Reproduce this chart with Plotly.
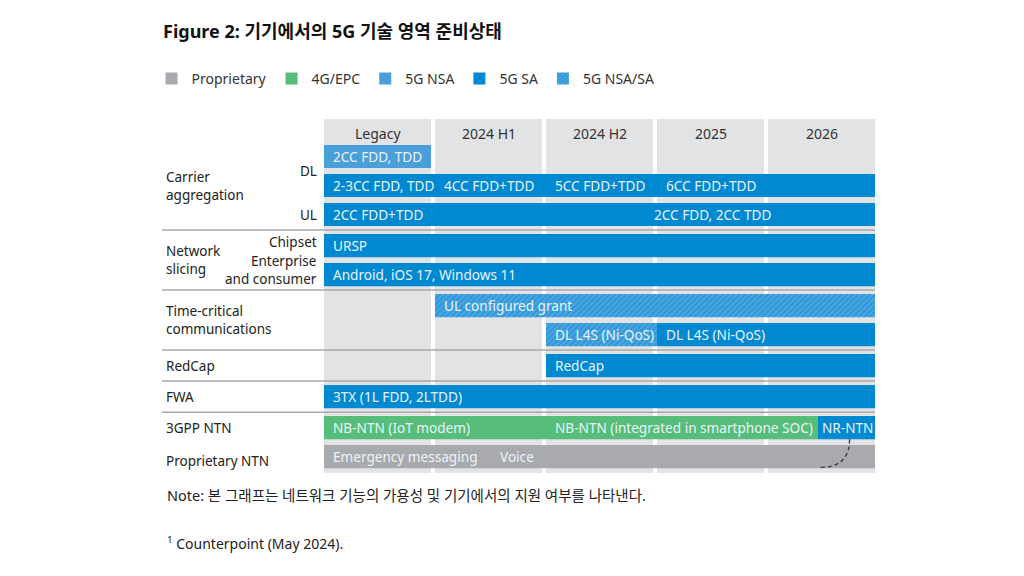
import plotly.graph_objects as go

# ── Data ─────────────────────────────────────────────────────────────────────

PERIODS = ["Legacy", "2024 H1", "2024 H2", "2025", "2026"]

TECHS = ["Proprietary", "4G/EPC", "5G NSA", "5G SA", "5G NSA/SA"]

# row index -> group index (groups are separated by a rule)
ROW_GROUP = [0, 0, 0, 1, 1, 2, 2, 3, 4, 5, 5]

# bar segments (start / end in period units, 0 = Legacy ... 5 = end of 2026)
SEG_ROW = [0, 1, 1, 1, 1, 2, 2, 3, 4, 5, 6, 6, 7, 8, 9, 9, 9, 10, 10]
SEG_START = [0, 0, 1, 2, 3, 0, 2.89, 0, 0, 1, 2, 3, 2, 0, 0, 2, 4.45, 0, 1.5]
SEG_END = [1, 1, 2, 3, 5, 2.89, 5, 5, 5, 5, 3, 5, 5, 5, 2, 4.45, 5, 1.5, 5]
SEG_TECH = [
    "5G NSA", "5G SA", "5G SA", "5G SA", "5G SA", "5G SA", "5G SA",
    "5G SA", "5G SA", "5G NSA/SA", "5G NSA/SA", "5G SA", "5G SA", "5G SA",
    "4G/EPC", "4G/EPC", "5G SA", "Proprietary", "Proprietary",
]
SEG_TEXT = [
    "2CC FDD, TDD",
    "2-3CC FDD, TDD", "4CC FDD+TDD", "5CC FDD+TDD", "6CC FDD+TDD",
    "2CC FDD+TDD", "2CC FDD, 2CC TDD",
    "URSP",
    "Android, iOS 17, Windows 11",
    "UL configured grant",
    "DL L4S (Ni-QoS)", "DL L4S (Ni-QoS)",
    "RedCap",
    "3TX (1L FDD, 2LTDD)",
    "NB-NTN (IoT modem)", "NB-NTN (integrated in smartphone SOC)", "NR-NTN",
    "Emergency messaging", "Voice",
]

# left-hand labels: (text, row position)
GROUP_LABELS = [
    ("Carrier<br>aggregation", 1),
    ("Network<br>slicing", 3.5),
    ("Time-critical<br>communications", 5.5),
    ("RedCap", 7),
    ("FWA", 8),
    ("3GPP NTN", 9),
    ("Proprietary NTN", 10.15),
]
SUB_LABELS = [
    ("DL", 0.5),
    ("UL", 2),
    ("Chipset", 2.88),
    ("Enterprise<br>and consumer", 3.86),
]

TITLE = "Figure 2: 기기에서의 5G 기술 영역 준비상태"
NOTE = "Note: 본 그래프는 네트워크 기능의 가용성 및 기기에서의 지원 여부를 나타낸다."
SOURCE = "<sup>1</sup> Counterpoint (May 2024)."

# ── Style ────────────────────────────────────────────────────────────────────

FONT = "Noto Sans, Noto Sans CJK KR, sans-serif"
COLORS = {
    "Proprietary": "#a9aaad",
    "4G/EPC": "#56bd7a",
    "5G NSA": "#4a9fdb",
    "5G SA": "#0088d1",
    "5G NSA/SA": "#3197da",
}
COL_BG = "#e2e3e5"
RULE = "#a8a8a8"
GAP = 4 / 111          # white gap between period columns
GROUP_GAP = 0.07       # extra space between row groups
BAR_W = 0.8


def row_y(r):
    i = int(r)
    base = i + GROUP_GAP * ROW_GROUP[i]
    if r == i:
        return base
    nxt = (i + 1) + GROUP_GAP * ROW_GROUP[min(i + 1, len(ROW_GROUP) - 1)]
    return base + (nxt - base) * (r - i)


# merge touching segments of the same colour into single bars (no seams)
runs = []  # (row, tech, start, end)
for i in range(len(SEG_ROW)):
    if runs and runs[-1][0] == SEG_ROW[i] and runs[-1][1] == SEG_TECH[i] \
            and runs[-1][3] == SEG_START[i]:
        runs[-1][3] = SEG_END[i]
    else:
        runs.append([SEG_ROW[i], SEG_TECH[i], SEG_START[i], SEG_END[i]])

# last run of a row stops short of the column edge
for k, run in enumerate(runs):
    if k == len(runs) - 1 or runs[k + 1][0] != run[0]:
        run[3] -= GAP

fig = go.Figure()

for tech in TECHS:
    sel = [r for r in runs if r[1] == tech]
    marker = dict(color=COLORS[tech], line=dict(width=0))
    if tech == "5G NSA/SA":
        marker["pattern"] = dict(shape="/", bgcolor="#3197da", fgcolor="#6dbbec",
                                 size=4, solidity=0.4)
    fig.add_trace(go.Bar(
        orientation="h",
        y=[row_y(r[0]) for r in sel],
        base=[r[2] for r in sel],
        x=[r[3] - r[2] for r in sel],
        width=BAR_W, marker=marker, name=tech,
        hoverinfo="skip",
    ))

# period columns + headers
shapes = []
annotations = []
for i, p in enumerate(PERIODS):
    shapes.append(dict(type="rect", xref="x", yref="paper", x0=i, x1=i + 1 - GAP,
                       y0=0, y1=1, fillcolor=COL_BG, line_width=0, layer="below"))
    annotations.append(dict(x=i + (1 - GAP) / 2, y=1, xref="x", yref="paper",
                            yanchor="middle", yshift=-14, text=p, showarrow=False,
                            font=dict(size=14, color="#333")))

# group rules
for r in range(len(ROW_GROUP) - 1):
    if ROW_GROUP[r] != ROW_GROUP[r + 1]:
        y = (row_y(r) + row_y(r + 1)) / 2
        shapes.append(dict(type="line", xref="paper", yref="y",
                           x0=-(324 - 162) / 551, x1=1, y0=y, y1=y,
                           line=dict(color=RULE, width=1.5), layer="below"))

# bar labels
for i, txt in enumerate(SEG_TEXT):
    narrow = SEG_END[i] - SEG_START[i] < 0.6
    annotations.append(dict(x=SEG_START[i], y=row_y(SEG_ROW[i]), xref="x", yref="y",
                            xanchor="left", xshift=2 if narrow else 7, text=txt,
                            showarrow=False,
                            font=dict(size=13.6, color="#eaf4fb")))

for txt, r in GROUP_LABELS:
    annotations.append(dict(x=0, y=row_y(r), xref="paper", yref="y", xanchor="left",
                            xshift=-160, text=txt, showarrow=False, align="left",
                            font=dict(size=13.5, color="#222")))
for txt, r in SUB_LABELS:
    annotations.append(dict(x=0, y=row_y(r), xref="paper", yref="y", xanchor="right",
                            xshift=-5, text=txt, showarrow=False, align="right",
                            font=dict(size=13.5, color="#222")))

# dashed connector from NR-NTN down to proprietary NTN
y0 = row_y(9) + BAR_W / 2
y1 = row_y(10) + BAR_W / 2 - 0.03
shapes.append(dict(type="path", xref="x", yref="y", layer="above",
                   path=f"M 4.735,{y0} Q 4.735,{y1} 4.47,{y1}",
                   line=dict(color="#3a3a3a", width=1.3, dash="4px,3px")))

annotations.append(dict(x=0, y=0, xref="paper", yref="paper", xanchor="left",
                        yanchor="middle", xshift=-159, yshift=-22, text=NOTE,
                        showarrow=False, font=dict(size=14.5, color="#222")))
annotations.append(dict(x=0, y=0, xref="paper", yref="paper", xanchor="left",
                        yanchor="middle", xshift=-159, yshift=-70, text=SOURCE,
                        showarrow=False, font=dict(size=14, color="#222")))

# the page adds an 8px body margin, so everything is laid out 8px up/left
fig.update_layout(
    width=1024, height=576, autosize=False,
    margin=dict(l=316, r=157, t=111, b=111),
    paper_bgcolor="white", plot_bgcolor="white",
    font=dict(family=FONT, color="#222"),
    barmode="overlay",
    title=dict(text=f"<b>{TITLE}</b>", x=155 / 1024, xanchor="left",
               y=1 - 24 / 576, yanchor="middle", xref="container", yref="container",
               font=dict(size=18, color="#111")),
    xaxis=dict(range=[0, 5 - GAP], visible=False),
    yaxis=dict(range=[10.914, -1.293], visible=False),
    legend=dict(orientation="h", x=-0.313, xanchor="left", y=1.113, yanchor="middle",
                font=dict(size=14, color="#333"), traceorder="normal",
                bgcolor="rgba(0,0,0,0)"),
    shapes=shapes, annotations=annotations,
    showlegend=True,
)

fig.write_html("out.html")
